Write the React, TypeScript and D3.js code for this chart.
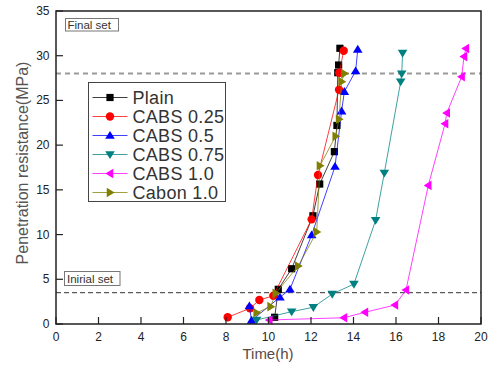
import React from "react";
import * as d3 from "d3";

// Penetration resistance vs. time for each mix
const plainTime = [10.29, 10.46, 11.09, 12.09, 12.41, 13.1, 13.22, 13.26, 13.3, 13.36];
const plainValue = [0.75, 3.88, 6.18, 12.1, 15.65, 19.27, 22.2, 28.1, 28.96, 30.83];

const cabs025Time = [8.08, 9.13, 9.57, 10.23, 12.03, 12.33, 13.32, 13.33, 13.54];
const cabs025Value = [0.75, 1.76, 2.68, 3.16, 11.7, 16.66, 26.2, 28.1, 30.56];

const cabs05Time = [9.1, 9.2, 10.54, 11.01, 12.03, 13.13, 13.44, 13.57, 14.1, 14.2];
const cabs05Value = [2.0, 0.4, 2.99, 3.88, 9.95, 17.6, 23.8, 25.98, 28.29, 30.7];

const cabs075Time = [9.44, 11.09, 12.11, 13.0, 14.02, 15.04, 15.45, 16.22, 16.27, 16.31];
const cabs075Value = [0.45, 1.38, 1.87, 3.35, 4.47, 11.6, 16.9, 27.1, 28.0, 30.3];

const cabs10Time = [10.04, 13.55, 14.54, 15.95, 16.47, 17.52, 18.31, 18.39, 19.09, 19.2, 19.29];
const cabs10Value = [0.45, 0.7, 1.31, 2.12, 3.8, 15.5, 22.4, 23.6, 27.65, 29.9, 30.8];

const cabonTime = [9.44, 10.1, 10.34, 11.4, 12.27, 12.42, 13.16, 13.32, 13.44, 13.57];
const cabonValue = [1.26, 1.94, 3.43, 6.49, 10.3, 17.7, 21.0, 22.9, 27.1, 28.0];

const seriesNames = ["Plain", "CABS 0.25", "CABS 0.5", "CABS 0.75", "CABS 1.0", "Cabon 1.0"];
const seriesColors = ["#000000", "#ff0000", "#0000ff", "#008080", "#ff00ff", "#808000"];
const seriesShapes = ["square", "circle", "up", "down", "left", "right"];
const seriesTimes = [plainTime, cabs025Time, cabs05Time, cabs075Time, cabs10Time, cabonTime];
const seriesValues = [plainValue, cabs025Value, cabs05Value, cabs075Value, cabs10Value, cabonValue];

const xTicks = [0, 2, 4, 6, 8, 10, 12, 14, 16, 18, 20];
const yTicks = [0, 5, 10, 15, 20, 25, 30, 35];

const finalSet = 28;
const initialSet = 3.5;

const W = 491;
const H = 365;
const plot = { left: 56, right: 481, top: 11, bottom: 324 };
const font = "'Liberation Sans', Arial, sans-serif";

function Marker({ shape, x, y, color }: { shape: string; x: number; y: number; color: string }) {
  const s = 4.3;
  if (shape === "square") {
    return <rect x={x - 3.6} y={y - 3.6} width={7.2} height={7.2} fill={color} />;
  }
  if (shape === "circle") {
    return <circle cx={x} cy={y} r={4.2} fill={color} />;
  }
  let pts: [number, number][] = [];
  const h = 4.6;
  if (shape === "up") pts = [[x, y - h], [x + s + 0.5, y + h * 0.7], [x - s - 0.5, y + h * 0.7]];
  if (shape === "down") pts = [[x, y + h], [x + s + 0.5, y - h * 0.7], [x - s - 0.5, y - h * 0.7]];
  if (shape === "left") pts = [[x - h, y], [x + h * 0.7, y - s - 0.5], [x + h * 0.7, y + s + 0.5]];
  if (shape === "right") pts = [[x + h, y], [x - h * 0.7, y - s - 0.5], [x - h * 0.7, y + s + 0.5]];
  return <polygon points={pts.map((p) => p.join(",")).join(" ")} fill={color} />;
}

export default function App() {
  const x = d3.scaleLinear().domain([0, 20]).range([plot.left, plot.right]);
  const y = d3.scaleLinear().domain([0, 35]).range([plot.bottom, plot.top]);
  const line = d3
    .line<[number, number]>()
    .x((d) => x(d[0]))
    .y((d) => y(d[1]));

  const legendX = 88.5;
  const legendY = 82.5;
  const legendRow = 19;

  return (
    <svg width={W} height={H} style={{ position: "absolute", left: 0, top: 0, background: "#fff" }}>
      {/* reference levels */}
      <line
        x1={plot.left}
        x2={plot.right}
        y1={y(finalSet)}
        y2={y(finalSet)}
        stroke="#999"
        strokeWidth={2}
        strokeDasharray="5,4"
      />
      <line
        x1={plot.left}
        x2={plot.right}
        y1={y(initialSet)}
        y2={y(initialSet)}
        stroke="#333"
        strokeWidth={1}
        strokeDasharray="5,3"
      />

      {/* series */}
      {seriesNames.map((name, i) => {
        const pts = seriesTimes[i].map((t, j) => [t, seriesValues[i][j]] as [number, number]);
        return (
          <g key={name}>
            <path d={line(pts) || ""} fill="none" stroke={seriesColors[i]} strokeWidth={1} strokeOpacity={0.75} />
            {pts.map((p, j) => (
              <Marker key={j} shape={seriesShapes[i]} x={x(p[0])} y={y(p[1])} color={seriesColors[i]} />
            ))}
          </g>
        );
      })}

      {/* frame */}
      <rect
        x={plot.left}
        y={plot.top}
        width={plot.right - plot.left}
        height={plot.bottom - plot.top}
        fill="none"
        stroke="#222"
        strokeWidth={1.5}
      />

      {/* x axis ticks */}
      {xTicks.map((t) => (
        <g key={"x" + t}>
          <line x1={x(t)} x2={x(t)} y1={plot.bottom} y2={plot.bottom - 7} stroke="#222" strokeWidth={1.2} />
          <text x={x(t)} y={341} fontSize={12} fontFamily={font} textAnchor="middle" fill="#222">
            {t}
          </text>
        </g>
      ))}
      {/* y axis ticks */}
      {yTicks.map((t) => (
        <g key={"y" + t}>
          <line x1={plot.left} x2={plot.left + 7} y1={y(t)} y2={y(t)} stroke="#222" strokeWidth={1.2} />
          <text x={49.5} y={y(t) + 4} fontSize={12} fontFamily={font} textAnchor="end" fill="#222">
            {t}
          </text>
        </g>
      ))}

      {/* axis titles */}
      <text x={268} y={359} fontSize={15} fontFamily={font} textAnchor="middle" fill="#5a4a44">
        Time(h)
      </text>
      <text
        transform={`translate(28,163) rotate(-90)`}
        fontSize={16}
        fontFamily={font}
        textAnchor="middle"
        fill="#555"
      >
        Penetration resistance(MPa)
      </text>

      {/* set labels */}
      <rect x={65.5} y={18.5} width={53} height={12.5} fill="#fff" stroke="#777" strokeWidth={1} />
      <text x={67.5} y={28.5} fontSize={11.5} fontFamily={font} fill="#333">
        Final set
      </text>
      <rect x={64.5} y={271.5} width={55.5} height={14} fill="#fff" stroke="#777" strokeWidth={1} />
      <text x={67} y={282.5} fontSize={11.5} fontFamily={font} fill="#333">
        Inirial set
      </text>

      {/* legend */}
      <rect x={legendX} y={legendY} width={137} height={119} fill="#fff" stroke="#444" strokeWidth={1} />
      {seriesNames.map((name, i) => {
        const cy = legendY + 15 + i * legendRow;
        return (
          <g key={"lg" + name}>
            <line x1={92.5} x2={127.5} y1={cy} y2={cy} stroke={seriesColors[i]} strokeWidth={1} strokeOpacity={0.75} />
            <Marker shape={seriesShapes[i]} x={110} y={cy} color={seriesColors[i]} />
            <text x={132.5} y={cy + 6.5} fontSize={18} fontFamily={font} fill="#333" letterSpacing={0.3}>
              {name}
            </text>
          </g>
        );
      })}
    </svg>
  );
}
